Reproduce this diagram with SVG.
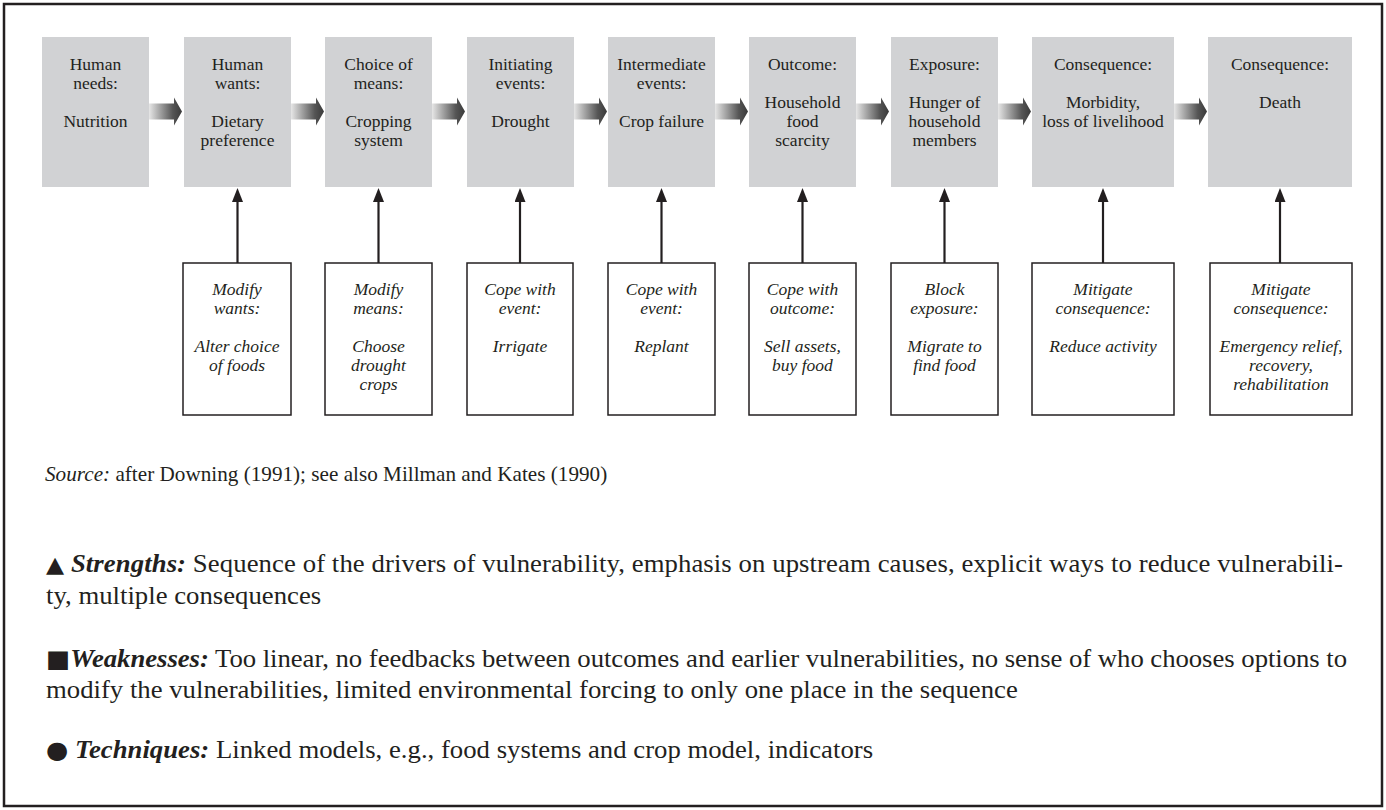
<svg xmlns="http://www.w3.org/2000/svg" width="1386" height="810" viewBox="0 0 1386 810">
<defs>
<linearGradient id="ag" x1="0" y1="0" x2="1" y2="0">
<stop offset="0" stop-color="#e6e6e6"/>
<stop offset="0.72" stop-color="#555555"/>
<stop offset="1" stop-color="#3a3a3a"/>
</linearGradient>
<marker id="up" markerUnits="userSpaceOnUse" markerWidth="14" markerHeight="11" refX="7" refY="5.5" orient="auto">
<path d="M0,0 L14,5.5 L0,11 Z" fill="#231f20"/>
</marker>
<style>
.top{fill:#d1d2d4;stroke:none}
.bot{fill:#ffffff;stroke:#231f20;stroke-width:1.5}
.t{font-family:"Liberation Serif","Times New Roman",serif;font-size:17.5px;fill:#231f20;text-anchor:middle}
.i{font-style:italic}
.conn{stroke:#231f20;stroke-width:2.2;fill:none}
.ha{fill:url(#ag)}
.body{font-family:"Liberation Serif","Times New Roman",serif;fill:#231f20}
.sym{font-family:"DejaVu Sans",sans-serif}
</style>
</defs>
<rect x="4" y="4" width="1378" height="802" fill="#ffffff" stroke="#231f20" stroke-width="2.5"/>

<g id="n1"><rect class="top" x="42" y="37" width="107" height="150"/>
<text class="t" x="95.5" y="70">Human</text><text class="t" x="95.5" y="89">needs:</text><text class="t" x="95.5" y="127">Nutrition</text></g>
<g id="n2"><rect class="top" x="184" y="37" width="107" height="150"/>
<text class="t" x="237.5" y="70">Human</text><text class="t" x="237.5" y="89">wants:</text><text class="t" x="237.5" y="127">Dietary</text><text class="t" x="237.5" y="146">preference</text></g>
<g id="n3"><rect class="top" x="325" y="37" width="107" height="150"/>
<text class="t" x="378.5" y="70">Choice of</text><text class="t" x="378.5" y="89">means:</text><text class="t" x="378.5" y="127">Cropping</text><text class="t" x="378.5" y="146">system</text></g>
<g id="n4"><rect class="top" x="467" y="37" width="107" height="150"/>
<text class="t" x="520.5" y="70">Initiating</text><text class="t" x="520.5" y="89">events:</text><text class="t" x="520.5" y="127">Drought</text></g>
<g id="n5"><rect class="top" x="608" y="37" width="107" height="150"/>
<text class="t" x="661.5" y="70">Intermediate</text><text class="t" x="661.5" y="89">events:</text><text class="t" x="661.5" y="127">Crop failure</text></g>
<g id="n6"><rect class="top" x="749" y="37" width="107" height="150"/>
<text class="t" x="802.5" y="70">Outcome:</text><text class="t" x="802.5" y="108">Household</text><text class="t" x="802.5" y="127">food</text><text class="t" x="802.5" y="146">scarcity</text></g>
<g id="n7"><rect class="top" x="891" y="37" width="107" height="150"/>
<text class="t" x="944.5" y="70">Exposure:</text><text class="t" x="944.5" y="108">Hunger of</text><text class="t" x="944.5" y="127">household</text><text class="t" x="944.5" y="146">members</text></g>
<g id="n8"><rect class="top" x="1032" y="37" width="142" height="150"/>
<text class="t" x="1103" y="70">Consequence:</text><text class="t" x="1103" y="108">Morbidity,</text><text class="t" x="1103" y="127">loss of livelihood</text></g>
<g id="n9"><rect class="top" x="1208" y="37" width="144" height="150"/>
<text class="t" x="1280" y="70">Consequence:</text><text class="t" x="1280" y="108">Death</text></g>

<g id="b1"><rect class="bot" x="183" y="263" width="108" height="152"/>
<text class="t i" x="237" y="295">Modify</text><text class="t i" x="237" y="314">wants:</text><text class="t i" x="237" y="352">Alter choice</text><text class="t i" x="237" y="371">of foods</text></g>
<g id="b2"><rect class="bot" x="325" y="263" width="107" height="152"/>
<text class="t i" x="378.5" y="295">Modify</text><text class="t i" x="378.5" y="314">means:</text><text class="t i" x="378.5" y="352">Choose</text><text class="t i" x="378.5" y="371">drought</text><text class="t i" x="378.5" y="390">crops</text></g>
<g id="b3"><rect class="bot" x="467" y="263" width="106" height="152"/>
<text class="t i" x="520" y="295">Cope with</text><text class="t i" x="520" y="314">event:</text><text class="t i" x="520" y="352">Irrigate</text></g>
<g id="b4"><rect class="bot" x="608" y="263" width="107" height="152"/>
<text class="t i" x="661.5" y="295">Cope with</text><text class="t i" x="661.5" y="314">event:</text><text class="t i" x="661.5" y="352">Replant</text></g>
<g id="b5"><rect class="bot" x="749" y="263" width="107" height="152"/>
<text class="t i" x="802.5" y="295">Cope with</text><text class="t i" x="802.5" y="314">outcome:</text><text class="t i" x="802.5" y="352">Sell assets,</text><text class="t i" x="802.5" y="371">buy food</text></g>
<g id="b6"><rect class="bot" x="891" y="263" width="107" height="152"/>
<text class="t i" x="944.5" y="295">Block</text><text class="t i" x="944.5" y="314">exposure:</text><text class="t i" x="944.5" y="352">Migrate to</text><text class="t i" x="944.5" y="371">find food</text></g>
<g id="b7"><rect class="bot" x="1032" y="263" width="142" height="152"/>
<text class="t i" x="1103" y="295">Mitigate</text><text class="t i" x="1103" y="314">consequence:</text><text class="t i" x="1103" y="352">Reduce activity</text></g>
<g id="b8"><rect class="bot" x="1210" y="263" width="142" height="152"/>
<text class="t i" x="1281" y="295">Mitigate</text><text class="t i" x="1281" y="314">consequence:</text><text class="t i" x="1281" y="352">Emergency relief,</text><text class="t i" x="1281" y="371">recovery,</text><text class="t i" x="1281" y="390">rehabilitation</text></g>

<g id="connectors">
<path class="ha" d="M149,103.5 H174 V97.5 L182,111.5 L174,125.5 V119.5 H149 Z"/>
<path class="ha" d="M291,103.5 H316 V97.5 L324,111.5 L316,125.5 V119.5 H291 Z"/>
<path class="ha" d="M432,103.5 H457 V97.5 L465,111.5 L457,125.5 V119.5 H432 Z"/>
<path class="ha" d="M574,103.5 H599 V97.5 L607,111.5 L599,125.5 V119.5 H574 Z"/>
<path class="ha" d="M715,103.5 H740 V97.5 L748,111.5 L740,125.5 V119.5 H715 Z"/>
<path class="ha" d="M856,103.5 H881 V97.5 L889,111.5 L881,125.5 V119.5 H856 Z"/>
<path class="ha" d="M998,103.5 H1023 V97.5 L1031,111.5 L1023,125.5 V119.5 H998 Z"/>
<path class="ha" d="M1174,103.5 H1199 V97.5 L1207,111.5 L1199,125.5 V119.5 H1174 Z"/>
<line class="conn" x1="237.5" y1="263" x2="237.5" y2="195" marker-end="url(#up)"/>
<line class="conn" x1="378.5" y1="263" x2="378.5" y2="195" marker-end="url(#up)"/>
<line class="conn" x1="520" y1="263" x2="520" y2="195" marker-end="url(#up)"/>
<line class="conn" x1="661.5" y1="263" x2="661.5" y2="195" marker-end="url(#up)"/>
<line class="conn" x1="802.5" y1="263" x2="802.5" y2="195" marker-end="url(#up)"/>
<line class="conn" x1="944.5" y1="263" x2="944.5" y2="195" marker-end="url(#up)"/>
<line class="conn" x1="1103" y1="263" x2="1103" y2="195" marker-end="url(#up)"/>
<line class="conn" x1="1280" y1="263" x2="1280" y2="195" marker-end="url(#up)"/>
</g>

<g id="source" transform="translate(45,0) scale(1.06,1)">
<text class="body" x="0" y="481" font-size="20"><tspan font-style="italic">Source:</tspan> after Downing (1991); see also Millman and Kates (1990)</text>
</g>

<g id="notes" transform="translate(46,0) scale(1.07,1)">
<text class="body" x="0" y="572" font-size="25" textLength="1212" lengthAdjust="spacing"><tspan class="sym" font-size="22">▲</tspan> <tspan font-style="italic" font-weight="bold">Strengths:</tspan> Sequence of the drivers of vulnerability, emphasis on upstream causes, explicit ways to reduce vulnerabili-</text>
<text class="body" x="0" y="604" font-size="25">ty, multiple consequences</text>
<text class="body" x="0" y="667" font-size="25" textLength="1216" lengthAdjust="spacing"><tspan class="sym" font-size="24">■</tspan><tspan font-style="italic" font-weight="bold">Weaknesses:</tspan> Too linear, no feedbacks between outcomes and earlier vulnerabilities, no sense of who chooses options to</text>
<text class="body" x="0" y="698" font-size="25">modify the vulnerabilities, limited environmental forcing to only one place in the sequence</text>
<text class="body" x="0" y="758" font-size="25"><tspan class="sym" font-size="24">●</tspan> <tspan font-style="italic" font-weight="bold">Techniques:</tspan> Linked models, e.g., food systems and crop model, indicators</text>
</g>
</svg>
